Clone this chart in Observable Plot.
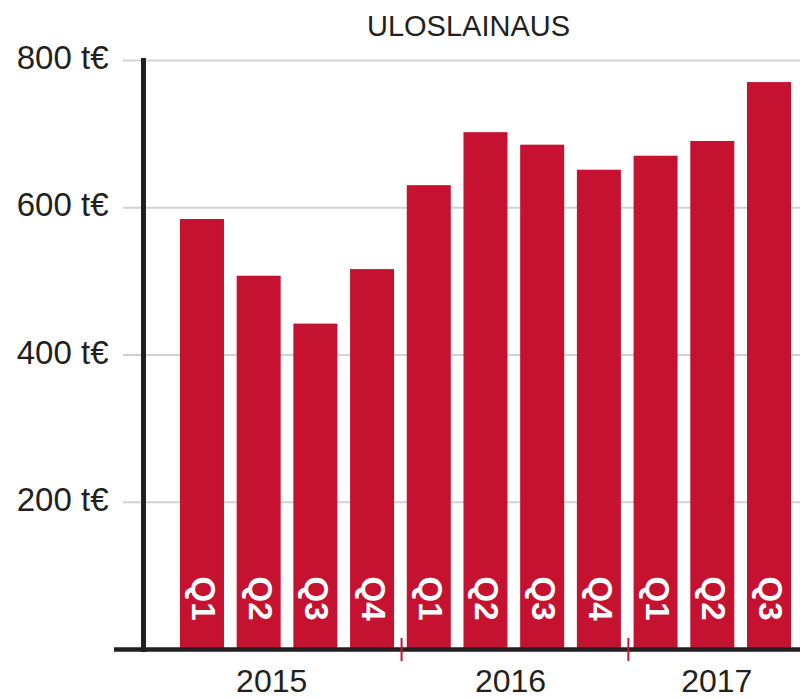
<!DOCTYPE html>
<html>
<head>
<meta charset="utf-8">
<script src="https://cdn.jsdelivr.net/npm/d3@7"></script>
<script src="https://cdn.jsdelivr.net/npm/@observablehq/plot@0.6"></script>
<style>
  html, body { margin: 0; padding: 0; background: #fff; }
  #chart svg { display: block; }
</style>
</head>
<body>
<div id="chart"></div>
<script>
const title = "ULOSLAINAUS";
const periodYears = ["2015","2015","2015","2015","2016","2016","2016","2016","2017","2017","2017"];
const quarters = ["Q1","Q2","Q3","Q4","Q1","Q2","Q3","Q4","Q1","Q2","Q3"];
const values = [584, 507, 442, 516, 630, 702, 685, 651, 670, 690, 770];
const yTicks = [200, 400, 600, 800];
const unit = " t€";
const yearLabels = ["2015", "2016", "2017"];
const dividerAfter = ["2015 Q4", "2016 Q4"];

const data = quarters.map((q, i) => ({
  period: periodYears[i] + " " + q,
  quarter: q,
  year: periodYears[i],
  value: values[i]
}));
const periods = data.map(d => d.period);

const red = "#c41230";
const ink = "#231f20";
const font = "'Liberation Sans', Arial, Helvetica, sans-serif";

const yearDx = [12.5, 24.5, 4];

const chart = Plot.plot({
  width: 800,
  height: 699,
  marginTop: 60,
  marginBottom: 50,
  marginLeft: 143,
  marginRight: 0,
  style: { fontFamily: font, fontSize: "33px", color: ink, background: "#fff" },
  x: { domain: periods, paddingInner: 0.224, paddingOuter: 0.4055, align: 0.804, round: false, axis: null },
  y: { domain: [0, 800], axis: null },
  marks: [
    Plot.ruleY(yTicks, { stroke: "#d2d2d2", strokeWidth: 2.2, insetLeft: -20 }),
    Plot.barY(data, { x: "period", y: "value", fill: red }),
    Plot.text(data, {
      x: "period", y: () => 0, text: "quarter", rotate: 90,
      textAnchor: "end", lineAnchor: "middle", dy: -29,
      fill: "#fff", fontWeight: "bold", fontSize: 33
    }),
    Plot.axisY({
      ticks: yTicks, tickFormat: d => d + unit, tickSize: 0, tickPadding: 35,
      fontSize: 33, fill: ink, dy: -2, label: null
    }),
    Plot.frame({ anchor: "left", stroke: ink, strokeWidth: 5 }),
    Plot.ruleY([0], { stroke: ink, strokeWidth: 4.5, insetLeft: -29 }),
    Plot.ruleX(dividerAfter, { x: d => d, y1: 15, y2: 0, insetBottom: -12, dx: 29, stroke: red, strokeWidth: 2 }),
    ...yearLabels.map((yr, i) => Plot.text([yr], {
      x: () => yr + " Q2", y: () => 0, text: d => d, dx: yearDx[i], dy: 32,
      lineAnchor: "middle", fontSize: 32, fill: ink
    })),
    Plot.text([title], {
      frameAnchor: "top", text: d => d, dx: -3.5, dy: -34,
      lineAnchor: "middle", fontSize: 29, fill: ink
    })
  ]
});
document.getElementById("chart").appendChild(chart);
</script>
</body>
</html>
